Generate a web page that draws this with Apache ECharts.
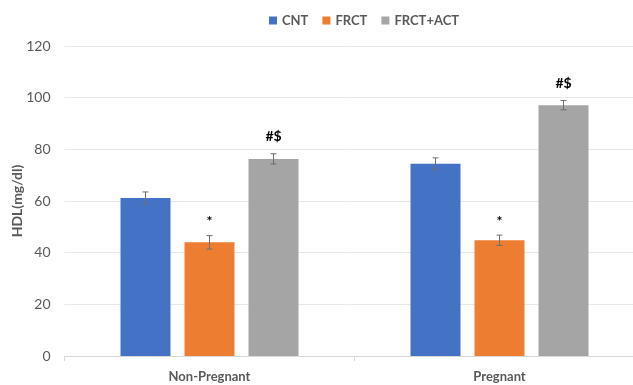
<!DOCTYPE html>
<html>
<head>
<meta charset="utf-8">
<script src="https://cdn.jsdelivr.net/npm/echarts@6/dist/echarts.min.js"></script>
<style>
  html, body { margin: 0; padding: 0; background: #fff; }
  #chart { width: 633px; height: 385px; }
</style>
</head>
<body>
<div id="chart"></div>
<script>
// HDL levels by group and pregnancy status
const categories = ['Non-Pregnant', 'Pregnant'];
const seriesNames = ['CNT', 'FRCT', 'FRCT+ACT'];
const cntValues = [61.2, 74.4];
const frctValues = [44.0, 44.8];
const frctActValues = [76.3, 97.1];
const cntErrors = [2.3, 2.3];
const frctErrors = [2.6, 2.0];
const frctActErrors = [2.0, 1.8];
const cntMarks = ['', ''];
const frctMarks = ['*', '*'];
const frctActMarks = ['#$', '#$'];
const yTicks = [0, 20, 40, 60, 80, 100, 120];

const colors = ['#4472C4', '#ED7D31', '#A5A5A5'];
const textColor = '#595959';
const font = 'Lato, "Open Sans", sans-serif';

const groups = [
  { values: cntValues, errors: cntErrors, marks: cntMarks },
  { values: frctValues, errors: frctErrors, marks: frctMarks },
  { values: frctActValues, errors: frctActErrors, marks: frctActMarks }
];

const barWidth = 50;
const barGap = 14;

const chart = echarts.init(document.getElementById('chart'));

const barSeries = groups.map((g, i) => ({
  name: seriesNames[i],
  type: 'bar',
  data: g.values,
  barWidth: barWidth,
  barGap: (barGap / barWidth * 100) + '%',
  itemStyle: { color: colors[i] },
  silent: true,
  z: 2
}));

// error bars and significance marks, placed at each bar's centre
const errorSeries = groups.map((g, i) => ({
  type: 'custom',
  silent: true,
  z: 5,
  data: g.values.map((v, k) => [k, v, g.errors[k]]),
  encode: { x: 0, y: 1 },
  renderItem: function (params, api) {
    const k = api.value(0);
    const v = api.value(1);
    const e = api.value(2);
    const mark = g.marks[k];
    const c = api.coord([k, v]);
    const offset = (i - 1) * (barWidth + barGap);
    const x = c[0] + offset;
    const top = api.coord([k, v + e])[1];
    const bot = api.coord([k, v - e])[1];
    const cap = 3;
    const style = { stroke: '#6f6f6f', lineWidth: 1 };
    const children = [
      { type: 'line', shape: { x1: x, y1: top, x2: x, y2: bot }, style: style },
      { type: 'line', shape: { x1: x - cap, y1: top, x2: x + cap, y2: top }, style: style },
      { type: 'line', shape: { x1: x - cap, y1: bot, x2: x + cap, y2: bot }, style: style }
    ];
    if (mark) {
      children.push({
        type: 'text',
        style: {
          text: mark,
          x: x,
          y: top - (mark === '*' ? 7 : 10),
          textAlign: 'center',
          textVerticalAlign: 'bottom',
          fill: '#000',
          font: 'bold 14px ' + font
        }
      });
    }
    return { type: 'group', children: children };
  }
}));

chart.setOption({
  animation: false,
  color: colors,
  textStyle: { fontFamily: font },
  legend: {
    data: seriesNames,
    top: 9,
    left: 264,
    icon: 'rect',
    itemWidth: 8,
    itemHeight: 8,
    itemGap: 14,
    textStyle: { color: textColor, fontSize: 13, fontWeight: 'bold', fontFamily: font }
  },
  grid: {
    left: 64.5,
    width: 580,
    top: 46,
    bottom: 29,
    containLabel: false,
    outerBoundsMode: 'none'
  },
  xAxis: {
    type: 'category',
    data: categories,
    axisLine: { lineStyle: { color: '#d9d9d9' } },
    axisTick: { show: true, length: 5, lineStyle: { color: '#d9d9d9' } },
    axisLabel: { color: textColor, fontSize: 13, fontWeight: 'bold', margin: 14, fontFamily: font }
  },
  yAxis: {
    type: 'value',
    min: yTicks[0],
    max: yTicks[yTicks.length - 1],
    interval: yTicks[1] - yTicks[0],
    name: 'HDL(mg/dl)',
    nameLocation: 'middle',
    nameGap: 40,
    nameRotate: 90,
    nameMoveOverlap: false,
    nameTextStyle: { color: textColor, fontSize: 14, fontWeight: 'bold', fontFamily: font },
    axisLine: { show: false },
    axisTick: { show: false },
    axisLabel: { color: textColor, fontSize: 14, margin: 14, fontFamily: font },
    splitLine: { lineStyle: { color: '#e8e8e8', width: 1 } }
  },
  series: barSeries.concat(errorSeries)
});
</script>
</body>
</html>
